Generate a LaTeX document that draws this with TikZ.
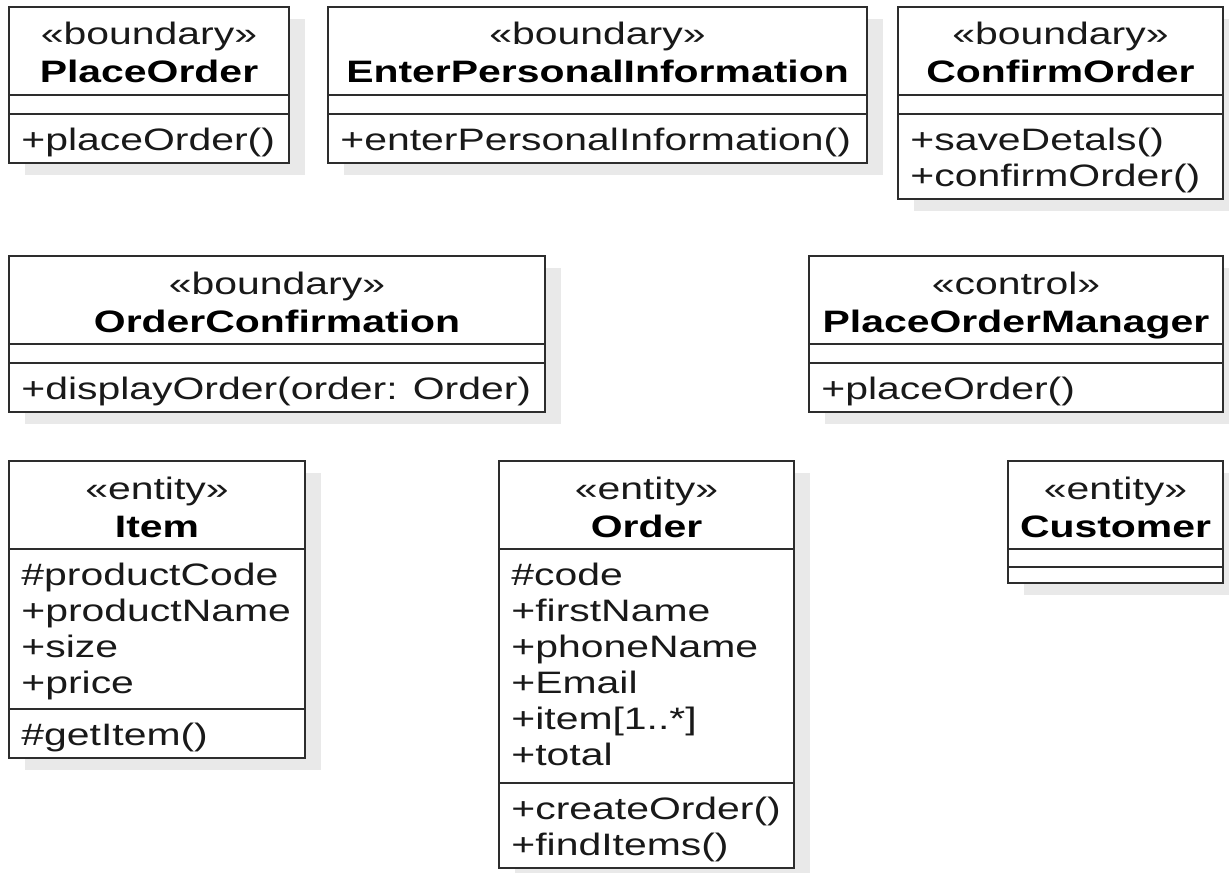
\documentclass[tikz,border=0pt]{standalone}
\usepackage{fontspec}
\setmainfont[FakeStretch=1.32]{Liberation Sans}
\usepackage{tikz}
\definecolor{boxline}{RGB}{45,45,45}
\definecolor{boxshadow}{RGB}{233,233,233}
\definecolor{boxtext}{RGB}{25,25,25}

\begin{document}
\begin{tikzpicture}[x=0.5pt, y=-0.5pt, font=\fontsize{15.5}{18}\selectfont,
    classframe/.style={draw=boxline, line width=1pt, fill=white},
    stereo/.style={anchor=base, inner sep=0pt, text=boxtext},
    classtitle/.style={anchor=base, inner sep=0pt, font=\fontsize{15.5}{18}\selectfont\bfseries},
    classmember/.style={anchor=base west, inner sep=0pt, text=boxtext}]
  \useasboundingbox (0,0) rectangle (1229,872);
  % --- class boxes: shadow, frame, compartment lines, header --------------
  \foreach \id/\l/\t/\r/\b/\dv/\st/\nm in {
      placeorder/9/7/289/163/114/boundary/PlaceOrder,
      enterinfo/328/7/867/163/114/boundary/EnterPersonalInformation,
      confirmorder/898/7/1223/199/114/boundary/ConfirmOrder,
      orderconf/9/256/545/412/363/boundary/OrderConfirmation,
      placeordermgr/809/256/1223/412/363/control/PlaceOrderManager,
      item/9/461/305/758/709/entity/Item,
      order/499/461/794/868/783/entity/Order,
      customer/1008/461/1223/583/567/entity/Customer} {
     \fill[boxshadow] (\l+16,\t+12) rectangle (\r+16,\b+12);
     \draw[classframe] (\l,\t) rectangle (\r,\b);
     \draw[boxline, line width=1pt] (\l,\t+88) -- (\r,\t+88) (\l,\dv) -- (\r,\dv);
     \node[stereo] (\id-st) at ({(\l+\r)/2},\t+38) {«\st»};
     \node[classtitle] (\id-nm) at ({(\l+\r)/2},\t+76) {\nm};
  }
  % --- attributes (a) and operations (m), one row per entry ---------------
  \foreach \id/\k/\l/\d/\rows in {
      placeorder/m/9/114/{+placeOrder()},
      enterinfo/m/328/114/{+enterPersonalInformation()},
      confirmorder/m/898/114/{+saveDetals(),+confirmOrder()},
      orderconf/m/9/363/{+displayOrder(order: Order)},
      placeordermgr/m/809/363/{+placeOrder()},
      item/a/9/549/{\#productCode,+productName,+size,+price},
      item/m/9/709/{\#getItem()},
      order/a/499/549/{\#code,+firstName,+phoneName,+Email,+item[1..*],+total},
      order/m/499/783/{+createOrder(),+findItems()}} {
     \foreach \txt [count=\i] in \rows
        \node[classmember] (\id-\k\i) at (\l+12,{\d+36*\i}) {\txt};
  }
\end{tikzpicture}
\end{document}
